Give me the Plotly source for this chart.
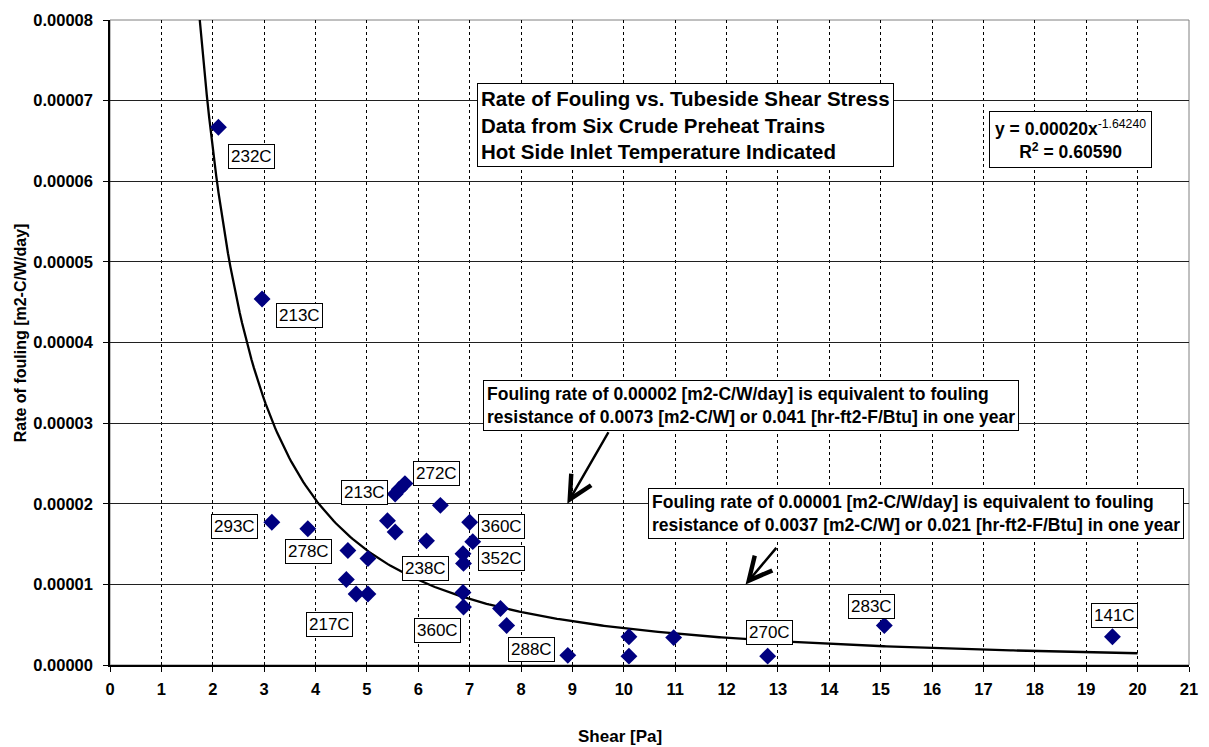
import numpy as np
import plotly.graph_objects as go

# Measured fouling rates against tubeside wall shear stress
shear_pa = [2.11, 2.96, 3.15, 3.85, 4.63, 5.02, 4.60, 4.79, 5.02, 5.40,
            5.55, 5.55, 5.63, 5.74, 6.43, 6.16, 7.00, 7.06, 6.87, 6.88,
            6.87, 6.88, 7.60, 7.72, 8.91, 10.10, 10.10, 10.97, 12.80, 15.07,
            19.51]
fouling_rate = [6.67e-5, 4.54e-5, 1.77e-5, 1.69e-5, 1.42e-5, 1.32e-5, 1.06e-5, 0.88e-5, 0.88e-5, 1.79e-5,
                1.65e-5, 2.12e-5, 2.18e-5, 2.25e-5, 1.98e-5, 1.54e-5, 1.77e-5, 1.53e-5, 1.38e-5, 1.26e-5,
                0.90e-5, 0.72e-5, 0.70e-5, 0.49e-5, 0.12e-5, 0.35e-5, 0.11e-5, 0.34e-5, 0.11e-5, 0.49e-5,
                0.35e-5]
# Hot side inlet temperature for the labelled points (index -> label)
inlet_temp = {0: "232C", 1: "213C", 2: "293C", 3: "278C", 7: "217C", 11: "213C",
              13: "272C", 15: "238C", 16: "360C", 17: "352C", 21: "360C",
              24: "288C", 28: "270C", 29: "283C", 30: "141C"}

# Power-law trendline  y = a * x^b
fit_a = 0.00020
fit_b = -1.64240
fit_r2 = 0.60590
fit_x_end = 20.0

x_ticks = list(range(0, 22))
y_ticks = [i * 1e-5 for i in range(0, 9)]

# Pixel offsets of each temperature label from its point
label_shift = {0: (33, -29), 1: (37, -17), 2: (-37, -4), 3: (1, -23), 7: (-27, -30),
               11: (-31, 2), 13: (32, 10), 15: (-1, -28), 16: (32, -4), 17: (29, -17),
               21: (-26, -24), 24: (-36, 6), 28: (2, 24), 29: (-13, 19), 30: (2, 21)}

BASE = "Arial, Liberation Sans, sans-serif"
NARROW = "Liberation Sans Narrow, Arial Narrow, Arial, sans-serif"

y_top = y_ticks[-1]
x_start = (y_top / fit_a) ** (1.0 / fit_b)
fit_x = np.linspace(x_start, fit_x_end, 400)
fit_y = fit_a * fit_x ** fit_b

fig = go.Figure()
fig.add_trace(go.Scatter(x=fit_x, y=fit_y, mode="lines",
                         line=dict(color="black", width=2.3), hoverinfo="skip",
                         showlegend=False))
fig.add_trace(go.Scatter(x=shear_pa, y=fouling_rate, mode="markers",
                         marker=dict(symbol="diamond", size=13, color="#000080"),
                         showlegend=False))

annotations = []
for i, txt in inlet_temp.items():
    dx, dy = label_shift[i]
    annotations.append(dict(x=shear_pa[i], y=fouling_rate[i], xref="x", yref="y",
                            text=txt, showarrow=False, xshift=dx, yshift=dy,
                            bgcolor="white", bordercolor="black", borderwidth=1,
                            borderpad=2, font=dict(family=BASE, size=17, color="black")))

# Plot-area pixel geometry used for placing boxed notes
L, R, T, B = 110, 1198, 17, 665
def px(xp):
    return (xp - L) / (R - L)
def py(yp):
    return (B - yp) / (B - T)

annotations.append(dict(
    x=px(480), y=py(80), xref="paper", yref="paper", xanchor="left", yanchor="top",
    text="Rate of Fouling vs. Tubeside Shear Stress<br>Data from Six Crude Preheat Trains"
         "<br>Hot Side Inlet Temperature Indicated",
    showarrow=False, align="left", bgcolor="white", bordercolor="black", borderwidth=1,
    borderpad=3, font=dict(family=BASE, size=20.5, color="black", weight="bold")))

annotations.append(dict(
    x=px(996), y=py(108), xref="paper", yref="paper", xanchor="left", yanchor="top",
    text=(f"y = {fit_a:.5f}x<sup><span style='font-weight:normal'>{fit_b:.5f}</span></sup>"
          f"<br>R<sup>2</sup> = {fit_r2:.5f}"),
    showarrow=False, align="center", bgcolor="white", bordercolor="black", borderwidth=1,
    borderpad=5, font=dict(family=BASE, size=17.5, color="black", weight="bold")))

notes = [
    ("Fouling rate of 0.00002 [m2-C/W/day] is equivalent to fouling<br>"
     "resistance of 0.0073 [m2-C/W] or 0.041 [hr-ft2-F/Btu] in one year", 486, 379),
    ("Fouling rate of 0.00001 [m2-C/W/day] is equivalent to fouling<br>"
     "resistance of 0.0037 [m2-C/W] or 0.021 [hr-ft2-F/Btu] in one year", 652, 487),
]
for txt, xl, yt in notes:
    annotations.append(dict(
        x=px(xl), y=py(yt), xref="paper", yref="paper", xanchor="left", yanchor="top",
        text=txt, showarrow=False, align="left", bgcolor="white", bordercolor="black",
        borderwidth=1, borderpad=3,
        font=dict(family=NARROW, size=17.5, color="black", weight="bold")))

# Arrows from the notes down to the 0.00002 and 0.00001 levels
arrows = [(8.9, 2e-5, 42, -73), (12.37, 1e-5, 32, -38)]
for ax_x, ax_y, dx, dy in arrows:
    annotations.append(dict(x=ax_x, y=ax_y, xref="x", yref="y", text="", showarrow=True,
                            ax=dx, ay=dy, arrowhead=5, arrowsize=1.8, arrowwidth=2.5,
                            arrowcolor="black"))

# Axis titles
annotations.append(dict(x=0.5 * (px(582) + px(667)), y=py(737), xref="paper", yref="paper",
                        xanchor="center", yanchor="middle",
                        text="Shear [Pa]", showarrow=False,
                        font=dict(family=BASE, size=17, color="black", weight="bold")))
annotations.append(dict(x=px(20), y=py(331), xref="paper", yref="paper",
                        xanchor="center", yanchor="middle",
                        text="Rate of fouling [m2-C/W/day]", showarrow=False, textangle=-90,
                        font=dict(family=NARROW, size=16, color="black", weight="bold")))

fig.update_layout(
    width=1209, height=747,
    margin=dict(l=L, r=1209 - R, t=T, b=747 - B),
    paper_bgcolor="white", plot_bgcolor="white",
    annotations=annotations,
    shapes=[dict(type="rect", xref="paper", yref="paper", x0=0, x1=1, y0=0, y1=1,
                 line=dict(color="#808080", width=1), layer="below")],
    xaxis=dict(range=[0, 21], tickvals=x_ticks, ticktext=[str(v) for v in x_ticks],
               showgrid=True, gridcolor="black", gridwidth=1, griddash="3px,3px",
               zeroline=False, showline=True, linecolor="black", linewidth=1.5,
               ticks="outside", ticklen=5, tickcolor="black", ticklabelstandoff=3,
               tickfont=dict(family=BASE, size=16.5, color="black", weight="bold")),
    yaxis=dict(range=[0, y_top], tickvals=y_ticks, ticktext=[f"{v:.5f}" for v in y_ticks],
               showgrid=True, gridcolor="#202020", gridwidth=1,
               zeroline=False, showline=True, linecolor="black", linewidth=1.5,
               ticks="outside", ticklen=5, tickcolor="black", ticklabelstandoff=7,
               tickfont=dict(family=BASE, size=16.5, color="black", weight="bold")),
)

fig.write_html("out.html")
